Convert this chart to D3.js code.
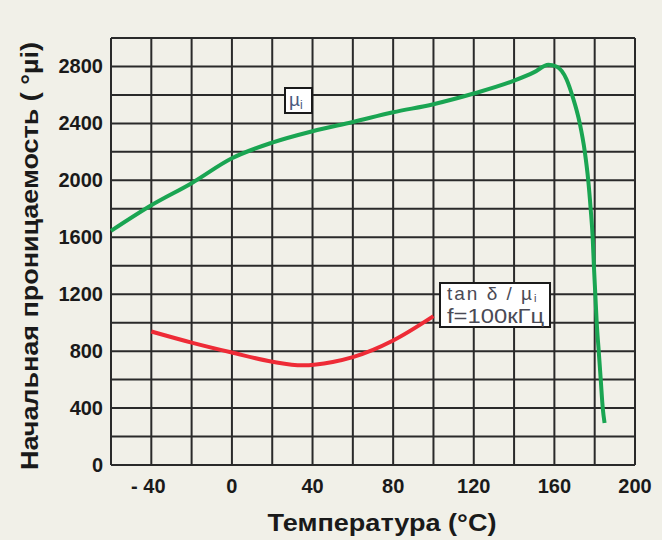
<!DOCTYPE html>
<html lang="ru">
<head>
    <meta charset="UTF-8">
    <title>Начальная проницаемость</title>
    <style>
        body{
            margin: 0;
            background: #f1f0e8;
            font-family: "Liberation Sans", Arial, sans-serif;
        }
    </style>
    <script src="https://d3js.org/d3.v7.min.js"></script>
</head>
<body>
    <script>
        // temperature (°C) and permeability readings
        var muTemp = [-60, -40, -20, 0, 20, 40, 60, 80, 100, 120, 140, 150, 157, 161, 166, 169, 172.6, 175.1, 176.8, 178, 179, 179.6, 180.3, 181, 182, 183, 184, 184.9];
        var muVals = [1645, 1825, 1980, 2155, 2265, 2345, 2410, 2478, 2535, 2610, 2700, 2760, 2812, 2800, 2710, 2590, 2400, 2200, 2000, 1800, 1600, 1400, 1200, 1000, 800, 600, 400, 295];
        var tanTemp = [-40, -20, 0, 20, 35, 50, 60, 80, 100];
        var tanVals = [938, 860, 790, 726, 700, 724, 758, 875, 1046];
        var xTicks = [-40, 0, 40, 80, 120, 160, 200];
        var yTicks = [0, 400, 800, 1200, 1600, 2000, 2400, 2800];

        var width = 662, height = 540;
        var plotL = 111, plotR = 635, plotT = 38, plotB = 465;

        var svg = d3.select("body").append("svg")
            .attr("width", width)
            .attr("height", height);

        var x = d3.scaleLinear().domain([-60, 200]).range([plotL, plotR]);
        var y = d3.scaleLinear().domain([0, 3000]).range([plotB, plotT]);

        // grid every 20 °C and every 200
        svg.append("g").selectAll("line")
            .data(d3.range(-60, 201, 20))
            .enter().append("line")
            .attr("x1", d => x(d)).attr("x2", d => x(d))
            .attr("y1", plotT).attr("y2", plotB)
            .attr("stroke", "#2a2a2a").attr("stroke-width", 2);

        svg.append("g").selectAll("line")
            .data(d3.range(0, 3001, 200))
            .enter().append("line")
            .attr("x1", plotL).attr("x2", plotR)
            .attr("y1", d => y(d)).attr("y2", d => y(d))
            .attr("stroke", "#2a2a2a").attr("stroke-width", 2);

        svg.append("g").selectAll("text")
            .data(yTicks)
            .enter().append("text")
            .attr("x", plotL - 8)
            .attr("y", d => y(d) + 7)
            .attr("text-anchor", "end")
            .style("font-size", "20px")
            .style("font-weight", "bold")
            .attr("fill", "#1a1a1a")
            .text(d => d);

        svg.append("g").selectAll("text")
            .data(xTicks)
            .enter().append("text")
            .attr("x", d => x(d) + (d < 0 ? -3 : 0))
            .attr("y", 493)
            .attr("text-anchor", "middle")
            .style("font-size", "20px")
            .style("font-weight", "bold")
            .attr("fill", "#1a1a1a")
            .text(d => d < 0 ? "- " + Math.abs(d) : d);

        svg.append("text")
            .attr("x", 382).attr("y", 531)
            .attr("text-anchor", "middle")
            .attr("textLength", 229)
            .attr("lengthAdjust", "spacingAndGlyphs")
            .style("font-size", "24px")
            .style("font-weight", "bold")
            .attr("fill", "#1a1a1a")
            .text("Температура (°C)");

        svg.append("text")
            .attr("transform", "translate(38,256) rotate(-90)")
            .attr("text-anchor", "middle")
            .attr("textLength", 428)
            .attr("lengthAdjust", "spacingAndGlyphs")
            .style("font-size", "23px")
            .style("font-weight", "bold")
            .attr("fill", "#1a1a1a")
            .text("Начальная проницаемость ( °µi)");

        var lineX = d3.line().x(d => x(d[0])).y(d => y(d[1])).curve(d3.curveMonotoneX);

        svg.append("path")
            .datum(d3.zip(muTemp, muVals))
            .attr("d", lineX)
            .attr("fill", "none")
            .attr("stroke", "#1aa552")
            .attr("stroke-width", 4);

        svg.append("path")
            .datum(d3.zip(tanTemp, tanVals))
            .attr("d", lineX)
            .attr("fill", "none")
            .attr("stroke", "#ee2b36")
            .attr("stroke-width", 4);

        // label boxes
        var b1 = svg.append("g");
        b1.append("rect").attr("x", 285).attr("y", 88).attr("width", 27).attr("height", 25)
            .attr("fill", "white").attr("stroke", "#1a1a1a").attr("stroke-width", 2);
        var t1 = b1.append("text").attr("x", 289).attr("y", 106)
            .style("font-size", "19px").attr("fill", "#4a5a80");
        t1.append("tspan").text("µ");
        t1.append("tspan").attr("dy", 3).style("font-size", "12px").text("i");

        var b2 = svg.append("g");
        b2.append("rect").attr("x", 440).attr("y", 283).attr("width", 110).attr("height", 44)
            .attr("fill", "white").attr("stroke", "#1a1a1a").attr("stroke-width", 2);
        var t2 = b2.append("text").attr("x", 447).attr("y", 300)
            .style("font-size", "19px").style("letter-spacing", "2px").attr("fill", "#4a4a55");
        t2.append("tspan").text("tan δ / µ");
        t2.append("tspan").attr("dy", 2).style("font-size", "11px").text("i");
        b2.append("text").attr("x", 447).attr("y", 323)
            .attr("textLength", 97)
            .attr("lengthAdjust", "spacingAndGlyphs")
            .style("font-size", "20px").attr("fill", "#4a4a55")
            .text("f=100кГц");
    </script>
</body>
</html>
